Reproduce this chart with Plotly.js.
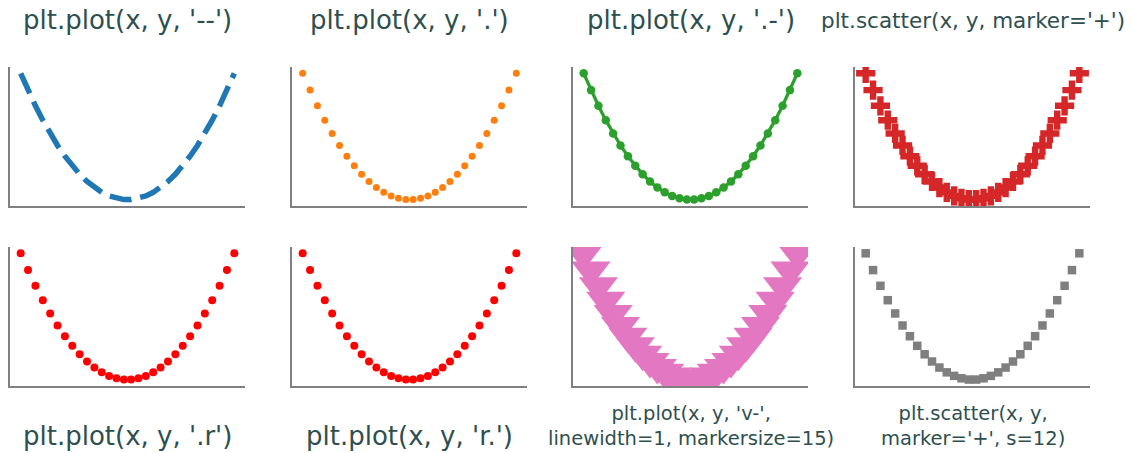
<!DOCTYPE html>
<html><head><meta charset="utf-8">
<script src="https://cdn.plot.ly/plotly-3.0.1.min.js"></script>
<style>body{margin:0;padding:0;background:#fff}#chart{width:1133px;height:453px}</style>
</head><body><div id="chart"></div>
<script>
const xVals = [-1.000,-0.931,-0.862,-0.793,-0.724,-0.655,-0.586,-0.517,-0.448,-0.379,-0.310,-0.241,-0.172,-0.103,-0.034,
                0.034, 0.103, 0.172, 0.241, 0.310, 0.379, 0.448, 0.517, 0.586, 0.655, 0.724, 0.793, 0.862, 0.931, 1.000];
const yVals = [1.000,0.867,0.743,0.629,0.524,0.429,0.344,0.268,0.201,0.144,0.096,0.058,0.030,0.011,0.001,
               0.001,0.011,0.030,0.058,0.096,0.144,0.201,0.268,0.344,0.429,0.524,0.629,0.743,0.867,1.000];
const topTitles = ["plt.plot(x, y, '--')", "plt.plot(x, y, '.')", "plt.plot(x, y, '.-')", "plt.scatter(x, y, marker='+')"];
const bottomTitles = ["plt.plot(x, y, '.r')", "plt.plot(x, y, 'r.')", "plt.plot(x, y, 'v-',<br>linewidth=1, markersize=15)", "plt.scatter(x, y,<br>marker='+', s=12)"];

const W = 1133, H = 453;
const colLeft = [10, 292, 573, 855];
const colW = 235;
const rowTop = [67, 247];
const rowH = 139;

const styles = [
  {mode:'lines', line:{color:'#1f77b4', width:5.5, dash:'22px,9px'}},
  {mode:'markers', marker:{color:'#ff7f0e', size:7, symbol:'circle'}},
  {mode:'lines+markers', line:{color:'#2ca02c', width:3.3}, marker:{color:'#2ca02c', size:8.5}},
  {mode:'markers', marker:{color:'#d62728', size:16, symbol:'cross'}},
  {mode:'markers', marker:{color:'#ff0000', size:8}},
  {mode:'markers', marker:{color:'#ff0000', size:8}},
  {mode:'lines+markers', line:{color:'#e377c2', width:1.3}, marker:{color:'#e377c2', size:34, symbol:'triangle-down'}},
  {mode:'markers', marker:{color:'#7f7f7f', size:8.5, symbol:'square'}}
];

const data = [];
const layout = {width:W, height:H, margin:{l:0,r:0,t:0,b:0}, showlegend:false,
  paper_bgcolor:'#fff', plot_bgcolor:'#fff', font:{family:'DejaVu Sans', color:'#2f4f4f'}, annotations:[]};

for (let k = 0; k < 8; k++) {
  const r = Math.floor(k/4), c = k % 4;
  const n = k + 1;
  const xa = 'xaxis' + (n === 1 ? '' : n), ya = 'yaxis' + (n === 1 ? '' : n);
  data.push(Object.assign({x:xVals, y:yVals, type:'scatter', xaxis:'x'+(n===1?'':n), yaxis:'y'+(n===1?'':n), cliponaxis:true}, styles[k]));
  const ax = {showline:true, linecolor:'#808080', linewidth:2, showgrid:false, zeroline:false, showticklabels:false, ticks:'', fixedrange:true};
  layout[xa] = Object.assign({}, ax, {domain:[colLeft[c]/W, (colLeft[c]+colW)/W], range:[-1.1,1.1], anchor:'y'+(n===1?'':n)});
  layout[ya] = Object.assign({}, ax, {domain:[(H-rowTop[r]-rowH)/H, (H-rowTop[r])/H], range:[-0.05,1.05], anchor:'x'+(n===1?'':n)});
  const cx = (colLeft[c] + colW/2)/W;
  if (r === 0) {
    layout.annotations.push({text: topTitles[c], x: cx, y: 1-20/H, xref:'paper', yref:'paper', showarrow:false,
      xanchor:'center', yanchor:'middle', font:{size: c===3 ? 21.5 : 26, color:'#2f4f4f', family:'DejaVu Sans'}});
  } else {
    const two = c >= 2;
    layout.annotations.push({text: bottomTitles[c], x: cx, y: two ? 1-426/H : 1-436/H, xref:'paper', yref:'paper', showarrow:false,
      xanchor:'center', yanchor:'middle', font:{size: two ? 19.5 : 26, color:'#2f4f4f', family:'DejaVu Sans'}});
  }
}
Plotly.newPlot('chart', data, layout, {displayModeBar:false, staticPlot:true});
</script></body></html>
